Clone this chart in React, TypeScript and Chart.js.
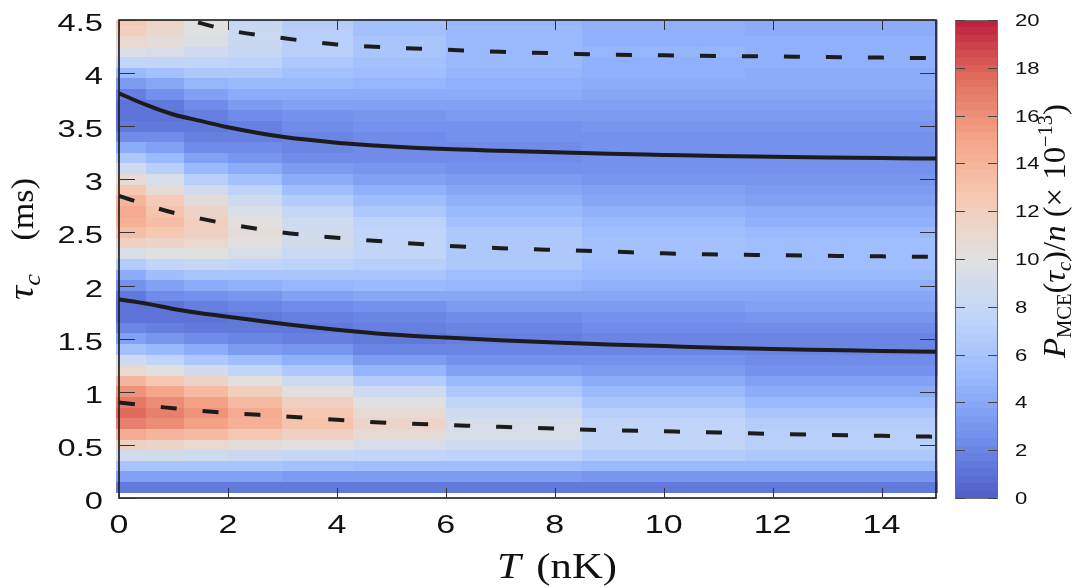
import { useEffect, useRef } from "react";
import { Chart, registerables } from "chart.js";

Chart.register(...registerables);

// ---- Axis ticks -------------------------------------------------------------
const xTicks = [0, 2, 4, 6, 8, 10, 12, 14];
const xTickLabels = ["0", "2", "4", "6", "8", "10", "12", "14"];
const yTicks = [0, 0.5, 1, 1.5, 2, 2.5, 3, 3.5, 4, 4.5];
const yTickLabels = ["0", "0.5", "1", "1.5", "2", "2.5", "3", "3.5", "4", "4.5"];
const colorbarTicks = [0, 2, 4, 6, 8, 10, 12, 14, 16, 18, 20];
const colorbarTickLabels = ["0", "2", "4", "6", "8", "10", "12", "14", "16", "18", "20"];

// ---- Guide curves: extrema of P_MCE versus temperature ------------------------
const curveT = [0, 0.5, 1, 1.5, 2, 3, 4, 5, 6, 7, 8, 9, 10, 11, 12, 13, 14, 15];
// minima (solid)
const lowerMinimum = [1.87, 1.83, 1.78, 1.74, 1.707, 1.64, 1.585, 1.54, 1.51, 1.485, 1.463, 1.445, 1.43, 1.415, 1.403, 1.394, 1.385, 1.377];
const upperMinimum = [3.81, 3.7, 3.61, 3.55, 3.49, 3.4, 3.345, 3.31, 3.285, 3.27, 3.255, 3.24, 3.23, 3.22, 3.213, 3.206, 3.2, 3.195];
// maxima (dashed)
const firstMaximum = [0.9, 0.87, 0.845, 0.82, 0.8, 0.77, 0.736, 0.706, 0.688, 0.67, 0.653, 0.638, 0.628, 0.617, 0.604, 0.594, 0.585, 0.577];
const secondMaximum = [2.845, 2.76, 2.685, 2.63, 2.58, 2.5, 2.45, 2.41, 2.375, 2.352, 2.335, 2.32, 2.303, 2.293, 2.286, 2.28, 2.275, 2.27];
const thirdMaximum = [4.74, 4.63, 4.54, 4.47, 4.405, 4.33, 4.27, 4.24, 4.22, 4.2, 4.187, 4.173, 4.168, 4.161, 4.157, 4.151, 4.146, 4.141];

// ---- P_MCE(tau_c)/n map (x 1e-13) -------------------------------------------
// row centres in tau_c (ms)
const tauRows = [
  0.1, 0.2, 0.3, 0.4, 0.5, 0.6, 0.7, 0.8, 0.9, 1.0,
  1.1, 1.2, 1.3, 1.4, 1.5, 1.6, 1.7, 1.8, 1.9, 2.0,
  2.1, 2.2, 2.3, 2.4, 2.5, 2.6, 2.7, 2.8, 2.9, 3.0,
  3.1, 3.2, 3.3, 3.4, 3.5, 3.6, 3.7, 3.8, 3.9, 4.0,
  4.1, 4.2, 4.3, 4.4, 4.5,
];
// temperature bin edges (nK)
const tBinEdges = [-0.05, 0.5, 1.2, 2, 3, 4.3, 6, 8.5, 11.5, 15.04];
// one column of values per temperature bin, bottom row first
const pmceBin1 = [1.5, 3.6, 6.2, 9.0, 11.6, 14.5, 16.8, 17.5, 17.1, 15.9, 13.9, 11.1, 8.5, 5.8, 3.5, 2.0, 1.2, 1.0, 1.3, 2.5, 4.3, 6.8, 9.3, 11.6, 13.3, 14.3, 14.5, 14.0, 12.7, 10.8, 8.6, 6.3, 4.1, 2.4, 1.4, 1.0, 1.1, 1.8, 3.3, 5.3, 7.5, 9.5, 11.0, 12.0, 12.5];
const pmceBin2 = [1.5, 3.6, 6.2, 9.0, 11.5, 14.0, 16.2, 16.8, 16.2, 14.8, 12.7, 10.2, 7.7, 5.2, 3.1, 1.7, 1.0, 1.2, 2.2, 3.7, 5.6, 7.8, 9.8, 11.5, 12.8, 13.3, 13.1, 12.3, 10.9, 9.1, 7.1, 5.2, 3.5, 2.2, 1.3, 1.0, 1.5, 2.5, 4.0, 5.8, 7.6, 9.2, 10.4, 11.2, 11.5];
const pmceBin3 = [1.5, 3.6, 6.1, 8.6, 11.1, 13.5, 15.3, 15.7, 15.0, 13.5, 11.4, 9.0, 6.5, 4.2, 2.4, 1.3, 1.1, 1.6, 2.6, 4.2, 6.1, 8.0, 9.7, 11.0, 11.8, 12.0, 11.5, 10.4, 8.9, 7.1, 5.3, 3.7, 2.3, 1.6, 1.3, 1.6, 2.4, 3.5, 4.8, 6.3, 7.6, 8.7, 9.5, 9.8, 9.7];
const pmceBin4 = [1.5, 3.6, 6.0, 8.3, 10.6, 12.7, 14.2, 14.4, 13.6, 12.1, 10.0, 7.7, 5.4, 3.4, 2.0, 1.25, 1.35, 2.1, 3.1, 4.6, 6.2, 7.8, 9.1, 10.1, 10.5, 10.3, 9.6, 8.5, 7.2, 5.7, 4.3, 3.1, 2.2, 1.75, 1.85, 2.35, 3.2, 4.2, 5.3, 6.4, 7.3, 8.0, 8.3, 8.3, 8.1];
const pmceBin5 = [1.5, 3.4, 5.8, 8.0, 10.0, 11.8, 12.9, 12.8, 11.8, 10.3, 8.5, 6.4, 4.4, 2.9, 1.75, 1.4, 1.65, 2.35, 3.5, 4.75, 6.1, 7.3, 8.3, 8.9, 9.0, 8.6, 7.9, 6.8, 5.6, 4.35, 3.25, 2.45, 2.0, 1.95, 2.2, 2.7, 3.45, 4.25, 5.1, 5.9, 6.5, 6.9, 7.0, 6.9, 6.7];
const pmceBin6 = [1.5, 3.3, 5.6, 7.6, 9.3, 10.7, 11.3, 10.9, 9.9, 8.5, 6.6, 4.9, 3.3, 2.1, 1.55, 1.6, 2.05, 2.8, 3.8, 5.0, 6.1, 7.0, 7.6, 7.8, 7.65, 7.2, 6.4, 5.5, 4.55, 3.65, 2.9, 2.4, 2.2, 2.3, 2.6, 3.05, 3.65, 4.3, 4.9, 5.45, 5.8, 6.0, 5.95, 5.85, 5.7];
const pmceBin7 = [1.5, 3.2, 5.4, 7.3, 8.6, 9.2, 9.25, 8.7, 7.7, 6.4, 5.0, 3.7, 2.6, 1.9, 1.7, 1.95, 2.45, 3.2, 4.0, 4.9, 5.6, 6.25, 6.55, 6.55, 6.3, 5.9, 5.25, 4.55, 3.85, 3.2, 2.7, 2.45, 2.4, 2.55, 2.8, 3.2, 3.65, 4.1, 4.5, 4.9, 5.1, 5.2, 5.15, 5.05, 4.9];
const pmceBin8 = [1.4, 3.0, 5.1, 6.6, 7.5, 7.8, 7.6, 7.0, 6.1, 5.1, 4.1, 3.2, 2.5, 2.0, 1.95, 2.2, 2.7, 3.3, 3.9, 4.5, 5.1, 5.6, 5.9, 5.85, 5.6, 5.15, 4.6, 4.0, 3.5, 3.0, 2.7, 2.55, 2.5, 2.6, 2.85, 3.2, 3.55, 3.9, 4.2, 4.45, 4.65, 4.7, 4.65, 4.55, 4.4];
const pmceBin9 = [1.4, 3.0, 5.0, 6.3, 6.9, 7.0, 6.7, 6.0, 5.2, 4.3, 3.5, 2.8, 2.3, 2.0, 2.1, 2.4, 2.9, 3.5, 4.0, 4.5, 5.0, 5.4, 5.5, 5.4, 5.1, 4.6, 4.1, 3.6, 3.2, 2.9, 2.7, 2.6, 2.65, 2.8, 3.0, 3.3, 3.6, 3.9, 4.1, 4.3, 4.45, 4.5, 4.45, 4.35, 4.2];
const pmceColumns = [pmceBin1, pmceBin2, pmceBin3, pmceBin4, pmceBin5, pmceBin6, pmceBin7, pmceBin8, pmceBin9];

// ---- Colour scale (diverging blue-white-red, 64 discrete levels) -------------
const coolwarm: number[][] = [
  [59, 76, 192], [98, 130, 234], [141, 176, 254], [184, 208, 249], [221, 221, 221],
  [245, 196, 173], [244, 154, 123], [222, 96, 77], [180, 4, 38],
];
const LEVELS = 64;
const C_MIN = 0;
const C_MAX = 20;
const WASH = 0.1;

function levelColor(level: number): string {
  const t = ((level + 0.5) / LEVELS) * (coolwarm.length - 1);
  const i = Math.min(Math.floor(t), coolwarm.length - 2);
  const f = t - i;
  const rgb = coolwarm[i].map((a, k) => a + (coolwarm[i + 1][k] - a) * f);
  const w = rgb.map((a) => Math.round(a + (255 - a) * WASH));
  return `rgb(${w[0]},${w[1]},${w[2]})`;
}
const palette = Array.from({ length: LEVELS }, (_, l) => levelColor(l));
function colorFor(v: number): string {
  const l = Math.floor(((v - C_MIN) / (C_MAX - C_MIN)) * LEVELS);
  return palette[Math.max(0, Math.min(LEVELS - 1, l))];
}

// ---- Text helpers -------------------------------------------------------------
const SANS = '"Liberation Sans", Arial, Helvetica, sans-serif';
const SERIF = '"Liberation Serif", "DejaVu Serif", "Times New Roman", serif';
const INK = "#111";

type Run = { text: string; font: string; dy?: number; flex?: boolean };

function drawStretched(ctx: CanvasRenderingContext2D, text: string, x: number, y: number, align: CanvasTextAlign, sx: number, font: string) {
  ctx.save();
  ctx.translate(x, y);
  ctx.scale(sx, 1);
  ctx.font = font;
  ctx.textAlign = align;
  ctx.textBaseline = "alphabetic";
  ctx.fillStyle = INK;
  ctx.fillText(text, 0, 0);
  ctx.restore();
}

// Lays out a run of mixed-style text centred on (cx, cy); it is widened up to
// maxScale and any remaining length goes into the flexible spaces.
function drawRuns(ctx: CanvasRenderingContext2D, runs: Run[], cx: number, cy: number, rotated: boolean, length: number, maxScale: number) {
  ctx.save();
  const widths = runs.map((r) => {
    ctx.font = r.font;
    return ctx.measureText(r.text).width;
  });
  const total = widths.reduce((a, b) => a + b, 0);
  const k = Math.min(maxScale, length / total);
  const flexCount = runs.filter((r) => r.flex).length;
  const extra = flexCount ? (length / k - total) / flexCount : 0;
  const span = total + extra * flexCount;
  ctx.translate(cx, cy);
  if (rotated) ctx.rotate(-Math.PI / 2);
  ctx.scale(k, 1);
  ctx.fillStyle = INK;
  ctx.textAlign = "left";
  ctx.textBaseline = "alphabetic";
  let pos = -span / 2;
  runs.forEach((r, i) => {
    ctx.font = r.font;
    ctx.fillText(r.text, pos, r.dy ?? 0);
    pos += widths[i] + (r.flex ? extra : 0);
  });
  ctx.restore();
}

// ---- Plugins ------------------------------------------------------------------
const heatmapPlugin = {
  id: "pmceHeatmap",
  beforeDatasetsDraw(chart: any) {
    const { ctx, chartArea, scales } = chart;
    const xs = scales.x;
    const ys = scales.y;
    const n = tauRows.length;
    const half = (tauRows[1] - tauRows[0]) / 2;
    const edges: number[] = [tauRows[0] - half];
    for (let r = 0; r < n - 1; r++) edges.push((tauRows[r] + tauRows[r + 1]) / 2);
    edges.push(tauRows[n - 1] + half);
    const rowPx = edges.map((e) => Math.max(chartArea.top, Math.round(ys.getPixelForValue(e))));
    ctx.save();
    pmceColumns.forEach((col, c) => {
      const x0 = Math.round(xs.getPixelForValue(tBinEdges[c]));
      const x1 = Math.round(xs.getPixelForValue(tBinEdges[c + 1]));
      col.forEach((v, r) => {
        const yBottom = rowPx[r];
        const yTop = rowPx[r + 1];
        if (yBottom <= yTop) return;
        ctx.fillStyle = colorFor(v);
        ctx.fillRect(x0, yTop, x1 - x0, yBottom - yTop);
      });
    });
    ctx.restore();
  },
};

const framePlugin = {
  id: "pmceFrame",
  afterDatasetsDraw(chart: any) {
    const { ctx, chartArea, scales } = chart;
    const xs = scales.x;
    const ys = scales.y;
    const cb = scales.cb;
    const { left, right, top, bottom } = chartArea;

    ctx.save();
    // axis box
    ctx.strokeStyle = "#1a1a1a";
    ctx.lineWidth = 1.6;
    ctx.strokeRect(left, top, right - left, bottom - top);

    // inward ticks
    ctx.strokeStyle = "#333";
    ctx.lineWidth = 1;
    ctx.beginPath();
    yTicks.forEach((v) => {
      const py = Math.round(ys.getPixelForValue(v)) + 0.5;
      ctx.moveTo(left, py);
      ctx.lineTo(left + 16, py);
      ctx.moveTo(right, py);
      ctx.lineTo(right - 16, py);
    });
    xTicks.forEach((v) => {
      const px = Math.round(xs.getPixelForValue(v)) + 0.5;
      ctx.moveTo(px, bottom);
      ctx.lineTo(px, bottom - 10);
      ctx.moveTo(px, top);
      ctx.lineTo(px, top + 10);
    });
    ctx.stroke();

    // tick labels
    yTicks.forEach((v, i) => {
      drawStretched(ctx, yTickLabels[i], 103, ys.getPixelForValue(v) + 11, "right", 1.42, `23px ${SANS}`);
    });
    xTicks.forEach((v, i) => {
      drawStretched(ctx, xTickLabels[i], xs.getPixelForValue(v), 533, "center", 1.36, `25px ${SANS}`);
    });

    // colour bar
    const cbLeft = 956;
    const cbRight = 997;
    for (let l = 0; l < LEVELS; l++) {
      const v0 = C_MIN + ((C_MAX - C_MIN) * l) / LEVELS;
      const v1 = C_MIN + ((C_MAX - C_MIN) * (l + 1)) / LEVELS;
      const y0 = Math.round(cb.getPixelForValue(v1));
      const y1 = Math.round(cb.getPixelForValue(v0));
      ctx.fillStyle = palette[l];
      ctx.fillRect(cbLeft, y0, cbRight - cbLeft, y1 - y0);
    }
    ctx.strokeStyle = "#6e6e6e";
    ctx.lineWidth = 1;
    ctx.strokeRect(cbLeft - 0.5, cb.getPixelForValue(C_MAX) + 0.5, cbRight - cbLeft + 1, cb.getPixelForValue(C_MIN) - cb.getPixelForValue(C_MAX));
    ctx.strokeStyle = "#444";
    ctx.beginPath();
    colorbarTicks.forEach((v) => {
      const py = Math.round(cb.getPixelForValue(v)) + 0.5;
      ctx.moveTo(cbLeft, py);
      ctx.lineTo(cbLeft + 9, py);
      ctx.moveTo(cbRight, py);
      ctx.lineTo(cbRight - 9, py);
    });
    ctx.stroke();
    colorbarTicks.forEach((v, i) => {
      drawStretched(ctx, colorbarTickLabels[i], 1015, cb.getPixelForValue(v) + 6, "left", 1.3, `17px ${SANS}`);
    });

    // axis titles
    drawRuns(
      ctx,
      [
        { text: "τ", font: `italic 36px ${SERIF}` },
        { text: "c", font: `italic 24px ${SERIF}`, dy: 7 },
        { text: " ", font: `31px ${SERIF}`, flex: true },
        { text: "(ms)", font: `31px ${SERIF}` },
      ],
      33,
      239,
      true,
      122,
      1.1
    );
    drawRuns(
      ctx,
      [
        { text: "T", font: `italic 35px ${SERIF}` },
        { text: " ", font: `35px ${SERIF}`, flex: true },
        { text: "(nK)", font: `35px ${SERIF}` },
      ],
      557,
      578,
      false,
      120,
      1.22
    );
    drawRuns(
      ctx,
      [
        { text: "P", font: `italic 32px ${SERIF}` },
        { text: "MCE", font: `20px ${SERIF}`, dy: 6 },
        { text: "(", font: `32px ${SERIF}` },
        { text: "τ", font: `italic 32px ${SERIF}` },
        { text: "c", font: `italic 20px ${SERIF}`, dy: 6 },
        { text: ")/", font: `32px ${SERIF}` },
        { text: "n", font: `italic 32px ${SERIF}` },
        { text: " ", font: `32px ${SERIF}`, flex: true },
        { text: "(×", font: `32px ${SERIF}` },
        { text: " ", font: `32px ${SERIF}`, flex: true },
        { text: "10", font: `32px ${SERIF}` },
        { text: "−13", font: `20px ${SERIF}`, dy: -13 },
        { text: ")", font: `32px ${SERIF}` },
      ],
      1065,
      231,
      true,
      254,
      1.05
    );
    ctx.restore();
  },
};

function curve(values: number[], dashed: boolean) {
  return {
    data: curveT.map((t, i) => ({ x: t, y: values[i] })),
    borderColor: "#1c1c1c",
    borderWidth: 4,
    borderDash: dashed ? [16, 26] : [],
    borderCapStyle: "butt" as const,
    pointRadius: 0,
    cubicInterpolationMode: "monotone" as const,
    fill: false,
    clip: 0,
  };
}

export default function App() {
  const canvasRef = useRef<HTMLCanvasElement | null>(null);

  useEffect(() => {
    const canvas = canvasRef.current;
    if (!canvas) return;
    const chart = new Chart(canvas, {
      type: "line",
      data: {
        datasets: [
          curve(lowerMinimum, false),
          curve(upperMinimum, false),
          curve(firstMaximum, true),
          curve(secondMaximum, true),
          curve(thirdMaximum, true),
        ],
      },
      options: {
        animation: false,
        responsive: false,
        maintainAspectRatio: false,
        events: [],
        layout: { padding: { left: 119, top: 20, right: 144, bottom: 90 } },
        plugins: { legend: { display: false }, tooltip: { enabled: false } },
        scales: {
          x: { type: "linear", min: 0, max: 15, display: false },
          y: { type: "linear", min: 0, max: 4.5, display: false },
          cb: { type: "linear", position: "right", min: C_MIN, max: C_MAX, display: false },
        },
      },
      plugins: [heatmapPlugin, framePlugin],
    } as any);
    return () => chart.destroy();
  }, []);

  return (
    <div style={{ position: "absolute", left: 0, top: 0, width: 1080, height: 588, background: "#fff" }}>
      <canvas ref={canvasRef} width={1080} height={588} style={{ display: "block", width: 1080, height: 588 }} />
    </div>
  );
}
